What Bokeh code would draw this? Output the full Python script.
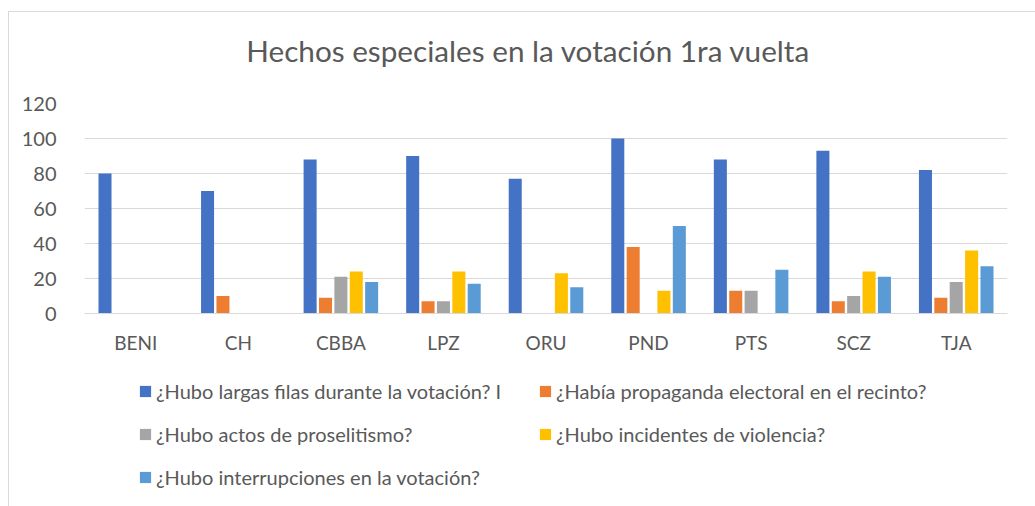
from bokeh.plotting import figure
from bokeh.layouts import column
from bokeh.models import (FactorRange, Range1d, Legend, LegendItem, ColumnDataSource,
                          SingleIntervalTicker, Label)
from bokeh.transform import dodge
from bokeh.embed import file_html
from bokeh.resources import INLINE

title_text = "Hechos especiales en la votación 1ra vuelta"
categories = ["BENI", "CH", "CBBA", "LPZ", "ORU", "PND", "PTS", "SCZ", "TJA"]
series_names = [
    "¿Hubo largas filas durante la votación? I",
    "¿Había propaganda electoral en el recinto?",
    "¿Hubo actos de proselitismo?",
    "¿Hubo incidentes de violencia?",
    "¿Hubo interrupciones en la votación?",
]
largas_filas = [80, 70, 88, 90, 77, 100, 88, 93, 82]
propaganda = [0, 10, 9, 7, 0, 38, 13, 7, 9]
proselitismo = [0, 0, 21, 7, 0, 0, 13, 10, 18]
violencia = [0, 0, 24, 24, 23, 13, 0, 24, 36]
interrupciones = [0, 0, 18, 17, 15, 50, 25, 21, 27]
colors = ["#4472C4", "#ED7D31", "#A5A5A5", "#FFC000", "#5B9BD5"]

src = ColumnDataSource(dict(cat=categories, s0=largas_filas, s1=propaganda,
                            s2=proselitismo, s3=violencia, s4=interrupciones))

TXT = "#595959"
FONT = "Lato"


def blank(h):
    f = figure(width=1026, height=h, output_backend="svg", toolbar_location=None,
               x_axis_location=None, y_axis_location=None,
               min_border_left=0, min_border_right=0, min_border_top=0, min_border_bottom=0,
               x_range=Range1d(0, 1), y_range=Range1d(0, 1))
    f.outline_line_color = None
    f.grid.grid_line_color = None
    return f


# title panel
tf = blank(79)
tf.add_layout(Label(x=0.481, y=0.519, text=title_text, text_align="center",
                    text_baseline="middle", text_font=FONT, text_font_size="29.7px",
                    text_color=TXT))

# chart
p = figure(x_range=FactorRange(*categories, range_padding=0), y_range=Range1d(0, 120),
           width=1026, height=267, output_backend="svg", toolbar_location=None,
           min_border_left=75, min_border_right=28, min_border_top=12, min_border_bottom=45)
p.outline_line_color = None

offsets = [-0.30, -0.15, 0.0, 0.15, 0.30]
for i in range(5):
    p.vbar(x=dodge("cat", offsets[i], range=p.x_range), top="s%d" % i, width=0.127,
           source=src, fill_color=colors[i], line_color=None)

p.yaxis.ticker = SingleIntervalTicker(interval=20)
p.yaxis.axis_line_color = None
p.yaxis.major_tick_line_color = None
p.yaxis.minor_tick_line_color = None
p.yaxis.major_label_standoff = 22
p.yaxis.major_label_text_font = FONT
p.yaxis.major_label_text_font_size = "20px"
p.yaxis.major_label_text_color = TXT

p.xaxis.axis_line_color = "#D9D9D9"
p.xaxis.major_tick_line_color = None
p.xaxis.minor_tick_line_color = None
p.xaxis.major_label_standoff = 11
p.xaxis.major_label_text_font = FONT
p.xaxis.major_label_text_font_size = "19px"
p.xaxis.major_label_text_color = TXT

p.xgrid.grid_line_color = None
p.ygrid.grid_line_color = "#D9D9D9"
p.ygrid.grid_line_width = 1

# legend panel
lg = blank(148)
items = []
for i in range(5):
    r = lg.vbar(x=[-10], top=[-10], width=0.1, fill_color=colors[i], line_color=None)
    items.append(LegendItem(label=series_names[i], renderers=[r]))

legend = Legend(items=items, orientation="horizontal", ncols=2, location=(54, 17),
                margin=0, padding=0, spacing=19, glyph_width=14, glyph_height=14,
                label_height=21, label_width=363, label_standoff=4,
                label_text_font=FONT, label_text_font_size="20px", label_text_color=TXT,
                border_line_color=None, background_fill_alpha=0)
lg.add_layout(legend, "center")

layout = column(tf, p, lg, spacing=0)
layout.margin = (11, 0, 0, 8)
layout.styles = {"border-left": "1px solid #D9D9D9", "border-top": "1px solid #D9D9D9"}

open("out.html", "w").write(file_html(layout, INLINE))
